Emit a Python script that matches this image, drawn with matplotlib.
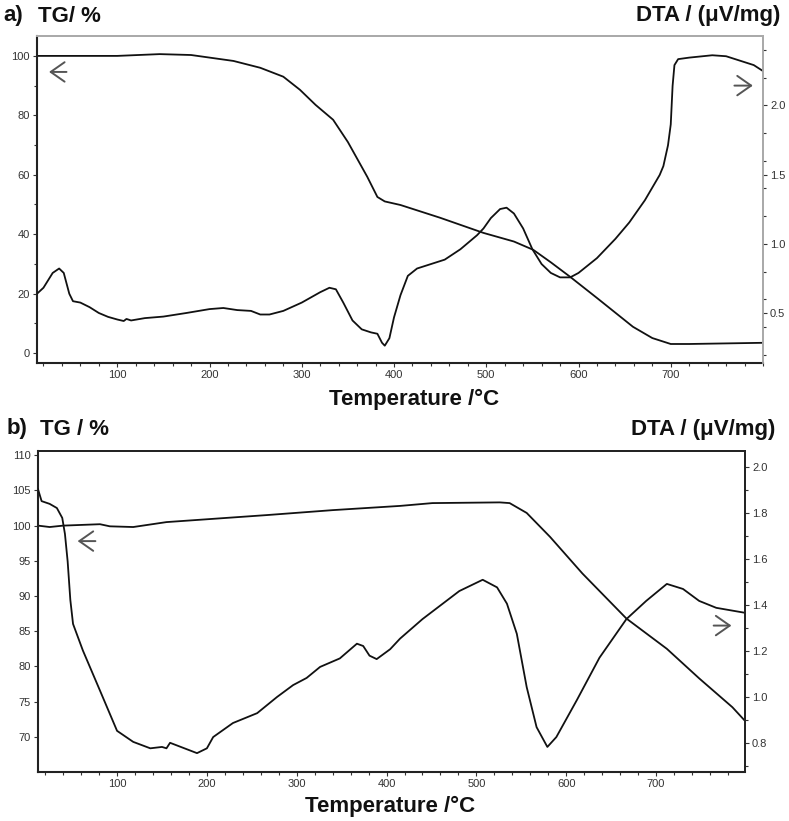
import matplotlib
matplotlib.use("Agg")
import matplotlib.pyplot as plt
from matplotlib.ticker import MultipleLocator, FormatStrFormatter

plt.rcParams['font.family'] = ['Liberation Sans', 'DejaVu Sans']

# panel a) TG (%) and DTA (uV/mg) vs temperature (C)
tg_a_T = [13, 100, 146, 180, 226, 255, 280, 298, 315, 334, 350, 371, 382, 390, 407,
          450, 497, 530, 551, 570, 591, 620, 659, 680, 700, 720, 800]
tg_a = [100, 100, 100.6, 100.3, 98.3, 96, 93, 88.6, 83.5, 78.5, 71, 59.3, 52.5, 51, 49.8,
        45.5, 40.4, 37.5, 34.7, 30.5, 25.6, 18.5, 8.8, 5, 3, 3, 3.4]

dta_a_T = [13, 20, 30, 37, 42, 48, 52, 60, 70, 80, 90, 100, 107, 110, 115, 130, 150, 175,
           200, 215, 230, 245, 255, 265, 280, 300, 320, 330, 337, 345, 355, 365, 375, 382,
           387, 390, 395, 400, 407, 415, 425, 440, 455, 472, 490, 497, 505, 515, 522, 530,
           540, 550, 560, 570, 580, 591, 600, 620, 640, 655, 672, 688, 692, 697, 700, 702,
           704, 708, 720, 745, 760, 775, 790, 800]
dta_a = [0.640, 0.683, 0.790, 0.822, 0.790, 0.640, 0.586, 0.576, 0.543, 0.501, 0.473, 0.454,
         0.443, 0.458, 0.447, 0.464, 0.475, 0.501, 0.529, 0.537, 0.522, 0.516, 0.490, 0.490,
         0.516, 0.576, 0.651, 0.683, 0.672, 0.576, 0.447, 0.383, 0.361, 0.351, 0.286, 0.265,
         0.319, 0.469, 0.629, 0.769, 0.822, 0.854, 0.886, 0.961, 1.062, 1.111, 1.186, 1.251,
         1.261, 1.219, 1.111, 0.961, 0.854, 0.790, 0.758, 0.758, 0.790, 0.897, 1.036, 1.154,
         1.315, 1.497, 1.561, 1.711, 1.862, 2.140, 2.290, 2.333, 2.344, 2.361, 2.354, 2.322,
         2.290, 2.247]

# panel b)
tg_b_T = [12, 25, 40, 81, 92, 118, 155, 267, 340, 415, 451, 526, 537, 556, 582, 618,
          667, 712, 748, 785, 798]
tg_b = [100, 99.8, 100, 100.2, 99.9, 99.8, 100.5, 101.5, 102.2, 102.8, 103.2, 103.3, 103.2,
        101.8, 98.4, 93.2, 86.8, 82.5, 78.3, 74.2, 72.4]

dta_b_T = [12, 16, 25, 33, 39, 42, 45, 48, 51, 62, 81, 100, 118, 137, 150, 155, 159, 173,
           189, 200, 207, 229, 256, 278, 296, 311, 326, 348, 367, 374, 381, 389, 404, 415,
           440, 481, 507, 523, 534, 545, 556, 567, 579, 589, 612, 637, 667, 689, 712, 730,
           748, 767, 798]
dta_b = [1.904, 1.852, 1.840, 1.822, 1.779, 1.709, 1.590, 1.422, 1.318, 1.202, 1.028, 0.853,
         0.805, 0.777, 0.783, 0.777, 0.801, 0.780, 0.756, 0.777, 0.826, 0.887, 0.930, 1.000,
         1.052, 1.083, 1.131, 1.168, 1.232, 1.222, 1.180, 1.165, 1.208, 1.254, 1.339, 1.461,
         1.510, 1.477, 1.406, 1.275, 1.043, 0.869, 0.783, 0.826, 0.988, 1.171, 1.339, 1.418,
         1.492, 1.470, 1.418, 1.388, 1.367]

x_ticks = [100, 200, 300, 400, 500, 600, 700]
tg_a_ticks = [0, 20, 40, 60, 80, 100]
dta_a_ticks = [0.5, 1.0, 1.5, 2.0]
tg_b_ticks = [70, 75, 80, 85, 90, 95, 100, 105, 110]
dta_b_ticks = [0.8, 1.0, 1.2, 1.4, 1.6, 1.8, 2.0]

W, H = 789, 821
fig = plt.figure(figsize=(W / 100, H / 100), dpi=100)

line_kw = dict(color='#111111', lw=1.3)
arrow_kw = dict(arrowstyle='->,head_length=0.5,head_width=0.35', color='#555555',
                lw=1.4, mutation_scale=20)
tick_col = '#333333'


def style_axes(ax, ax2, light_frame):
    for side in ['left', 'bottom']:
        ax.spines[side].set_linewidth(1.5)
        ax.spines[side].set_color('#222222')
    fc = '#aaaaaa' if light_frame else '#222222'
    for side in ['top', 'right']:
        ax.spines[side].set_color(fc)
        ax2.spines[side].set_color(fc)
        ax.spines[side].set_linewidth(1.3)
        ax2.spines[side].set_linewidth(1.3)
    for a in (ax, ax2):
        a.tick_params(which='both', direction='out', labelsize=8, colors=tick_col,
                      width=0.8)
        a.tick_params(which='major', length=3, pad=2)
        a.tick_params(which='minor', length=2)
    ax2.spines['left'].set_visible(False)
    ax2.spines['bottom'].set_visible(False)


# ---- panel a
ax = fig.add_axes([37 / W, 1 - 363 / H, (763 - 37) / W, (363 - 36) / H])
ax2 = ax.twinx()
ax.plot(tg_a_T, tg_a, **line_kw)
ax2.plot(dta_a_T, dta_a, **line_kw)
ax.set_xlim(13, 800)
ax.set_ylim(-3.4, 106.7)
ax2.set_ylim(0.14, 2.5)
ax.set_xticks(x_ticks)
ax.xaxis.set_minor_locator(MultipleLocator(20))
ax.set_yticks(tg_a_ticks)
ax.yaxis.set_minor_locator(MultipleLocator(10))
ax2.set_yticks(dta_a_ticks)
ax2.yaxis.set_minor_locator(MultipleLocator(0.2))
ax2.yaxis.set_major_formatter(FormatStrFormatter('%.1f'))
style_axes(ax, ax2, True)
ax.annotate('', xy=(23, 94.6), xytext=(48, 94.6), arrowprops=arrow_kw)
ax.annotate('', xy=(792, 90), xytext=(766, 90), arrowprops=arrow_kw)

# ---- panel b
bx = fig.add_axes([38 / W, 1 - 772 / H, (745 - 38) / W, (772 - 451) / H])
bx2 = bx.twinx()
bx.plot(tg_b_T, tg_b, **line_kw)
bx2.plot(dta_b_T, dta_b, **line_kw)
bx.set_xlim(12, 799)
bx.set_ylim(65, 110.6)
bx2.set_ylim(0.674, 2.07)
bx.set_xticks(x_ticks)
bx.xaxis.set_minor_locator(MultipleLocator(20))
bx.set_yticks(tg_b_ticks)
bx2.set_yticks(dta_b_ticks)
bx2.yaxis.set_minor_locator(MultipleLocator(0.1))
bx2.yaxis.set_major_formatter(FormatStrFormatter('%.1f'))
style_axes(bx, bx2, False)
bx.annotate('', xy=(53, 97.8), xytext=(79, 97.8), arrowprops=arrow_kw)
bx.annotate('', xy=(787, 85.8), xytext=(761, 85.8), arrowprops=arrow_kw)

# ---- labels
lab = dict(fontsize=16, fontweight='bold', color='#111111', va='center')
fig.text(3 / W, 1 - 16 / H, 'a)', ha='left', **lab)
fig.text(38 / W, 1 - 16 / H, 'TG/ %', ha='left', **lab)
fig.text(780 / W, 1 - 16 / H, 'DTA / (\u03bcV/mg)', ha='right', **lab)
fig.text(414 / W, 1 - 399 / H, 'Temperature /\u00b0C', ha='center', **lab)

fig.text(7 / W, 1 - 428 / H, 'b)', ha='left', **lab)
fig.text(40 / W, 1 - 429 / H, 'TG / %', ha='left', **lab)
fig.text(775 / W, 1 - 429 / H, 'DTA / (\u03bcV/mg)', ha='right', **lab)
fig.text(390 / W, 1 - 806 / H, 'Temperature /\u00b0C', ha='center', **lab)

fig.savefig('out.png', dpi=100)
